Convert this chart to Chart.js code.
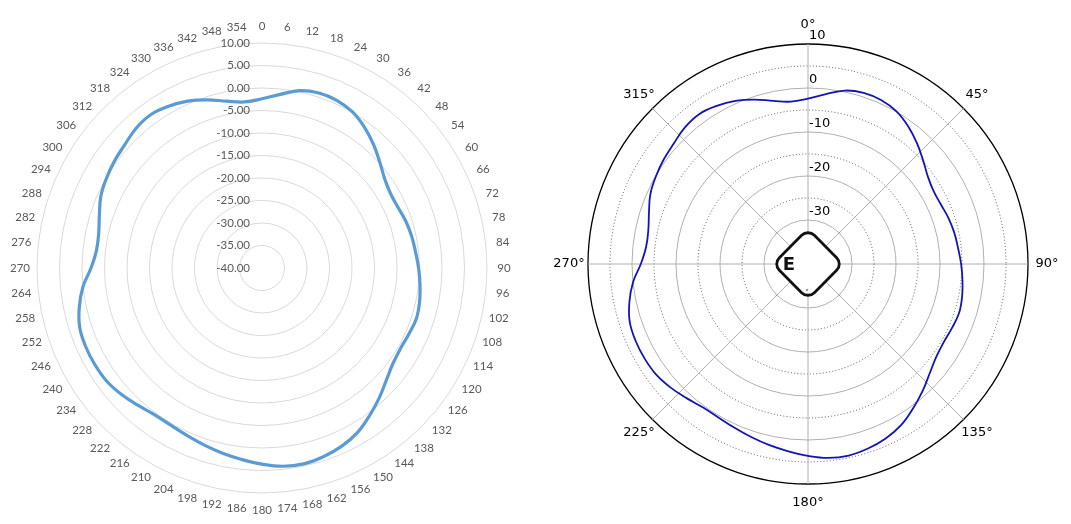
<!DOCTYPE html>
<html>
<head>
<meta charset="utf-8">
<script src="https://cdn.jsdelivr.net/npm/chart.js@4.4.1/dist/chart.umd.min.js"></script>
<style>
  html, body { margin: 0; padding: 0; background: #fff; }
  #wrap { position: relative; width: 1071px; height: 524px; }
  canvas { position: absolute; top: 0; }
  #excel { left: 0; }
  #mpl { left: 535px; }
</style>
</head>
<body>
<div id="wrap">
  <canvas id="excel" width="535" height="524"></canvas>
  <canvas id="mpl" width="536" height="524"></canvas>
</div>
<script>
// azimuth in degrees, one sample every 6 degrees
const angles = [0, 6, 12, 18, 24, 30, 36, 42, 48, 54, 60, 66, 72, 78, 84, 90, 96, 102, 108, 114,
  120, 126, 132, 138, 144, 150, 156, 162, 168, 174, 180, 186, 192, 198, 204, 210, 216, 222, 228, 234,
  240, 246, 252, 258, 264, 270, 276, 282, 288, 294, 300, 306, 312, 318, 324, 330, 336, 342, 348, 354];

// gain in dB
const gain = [-2.4, -1.2, 0.3, 0.9, 0.8, 0.1, -1.3, -3.0, -4.8, -6.3,
  -7.0, -6.9, -6.4, -6.0, -5.7, -5.2, -4.7, -4.2, -3.9, -4.2,
  -4.4, -4.0, -2.8, -1.1, 0.6, 2.3, 3.4, 4.1, 4.5, 4.3,
  3.6, 2.8, 2.1, 1.4, 0.8, 0.4, 0.4, 1.1, 2.0, 2.7,
  2.9, 2.9, 2.6, 1.5, 0.0, -2.0, -3.0, -2.9, -2.0, -0.8,
  -0.1, 0.5, 1.0, 1.8, 2.1, 1.5, 0.6, -0.7, -2.1, -2.9];

const radialTicks = [-40, -35, -30, -25, -20, -15, -10, -5, 0, 5, 10];
const polarTickLabels = [10, 0, -10, -20, -30];
const compassLabels = ['0°', '45°', '90°', '135°', '180°', '225°', '270°', '315°'];

// right plot works on a 3 degree label grid so that the 45 degree spokes exist
const fineLabels = [];
const fineGain = [];
angles.forEach((a, i) => {
  fineLabels.push(a, a + 3);
  fineGain.push(gain[i], null);
});

const excelText = {
  id: 'excelText',
  afterDraw(chart) {
    const s = chart.scales.r;
    const ctx = chart.ctx;
    ctx.save();
    ctx.fillStyle = '#595959';
    ctx.font = '11.5px Lato';
    ctx.textBaseline = 'middle';
    ctx.textAlign = 'right';
    radialTicks.forEach(v => {
      ctx.fillText(v.toFixed(2), s.xCenter - 12, s.yCenter - s.getDistanceFromCenterForValue(v));
    });
    ctx.textAlign = 'center';
    angles.forEach((a, i) => {
      const p = s.getPointPosition(i, s.drawingArea + 17);
      ctx.fillText(String(a), p.x, p.y);
    });
    ctx.restore();
  }
};

const mplText = {
  id: 'mplText',
  afterDraw(chart) {
    const s = chart.scales.r;
    const ctx = chart.ctx;
    const cx = s.xCenter, cy = s.yCenter;
    ctx.save();

    // "E" plane badge in the middle
    const h = 35, rr = 9;
    ctx.beginPath();
    ctx.moveTo(cx - h / 2, cy - h / 2);
    ctx.arcTo(cx, cy - h, cx + h, cy, rr);
    ctx.arcTo(cx + h, cy, cx, cy + h, rr);
    ctx.arcTo(cx, cy + h, cx - h, cy, rr);
    ctx.arcTo(cx - h, cy, cx, cy - h, rr);
    ctx.closePath();
    ctx.fillStyle = '#fff';
    ctx.fill();
    ctx.lineWidth = 2.8;
    ctx.strokeStyle = '#111';
    ctx.stroke();
    ctx.fillStyle = '#111';
    ctx.font = 'bold 18px "DejaVu Sans"';
    ctx.textAlign = 'center';
    ctx.textBaseline = 'middle';
    ctx.fillText('E', cx - 19, cy + 1);
    ctx.fillStyle = '#999';
    ctx.beginPath();
    ctx.arc(cx - 1, cy + 26, 1.2, 0, Math.PI * 2);
    ctx.fill();

    ctx.fillStyle = '#000';
    ctx.font = '13px "DejaVu Sans"';
    ctx.textAlign = 'left';
    polarTickLabels.forEach(v => {
      ctx.fillText(String(v), cx + 1, cy - s.getDistanceFromCenterForValue(v) - 8);
    });
    ctx.textAlign = 'center';
    compassLabels.forEach((t, k) => {
      const p = s.getPointPosition(k * 15, s.drawingArea + 19);
      ctx.fillText(t, p.x, p.y);
    });
    ctx.restore();
  }
};

new Chart(document.getElementById('excel'), {
  type: 'radar',
  data: {
    labels: angles,
    datasets: [{
      data: gain,
      borderColor: '#5b9bd5',
      borderWidth: 3.2,
      pointRadius: 0,
      fill: false,
      tension: 0.4
    }]
  },
  options: {
    responsive: false,
    animation: false,
    layout: { padding: { left: 37, top: 43, right: 48, bottom: 31 } },
    plugins: { legend: { display: false }, tooltip: { enabled: false } },
    scales: {
      r: {
        min: -40,
        max: 10,
        ticks: { stepSize: 5, display: false },
        pointLabels: { display: false },
        angleLines: { display: false },
        grid: { circular: true, color: '#d9d9d9', lineWidth: 1 }
      }
    }
  },
  plugins: [excelText]
});

new Chart(document.getElementById('mpl'), {
  type: 'radar',
  data: {
    labels: fineLabels,
    datasets: [{
      data: fineGain,
      spanGaps: true,
      borderColor: '#1414b4',
      borderWidth: 1.8,
      pointRadius: 0,
      fill: false,
      tension: 0.4
    }]
  },
  options: {
    responsive: false,
    animation: false,
    layout: { padding: { left: 53, top: 44, right: 43, bottom: 40 } },
    plugins: { legend: { display: false }, tooltip: { enabled: false } },
    scales: {
      r: {
        min: -40,
        max: 10,
        ticks: { stepSize: 5, display: false },
        pointLabels: { display: false },
        angleLines: {
          color: '#b0b0b0',
          lineWidth: ctx => (ctx.index % 15 === 0 ? 1 : 0)
        },
        grid: {
          circular: true,
          color: ctx => {
            if (ctx.tick.value === 10) return '#000';
            return ctx.tick.value % 10 === 0 ? '#b0b0b0' : '#555';
          },
          lineWidth: ctx => (ctx.tick.value === 10 ? 1.3 : 1)
        },
        border: {
          dash: ctx => (ctx.tick && ctx.tick.value % 10 !== 0 ? [1, 2.2] : [])
        }
      }
    }
  },
  plugins: [mplText]
});
</script>
</body>
</html>
